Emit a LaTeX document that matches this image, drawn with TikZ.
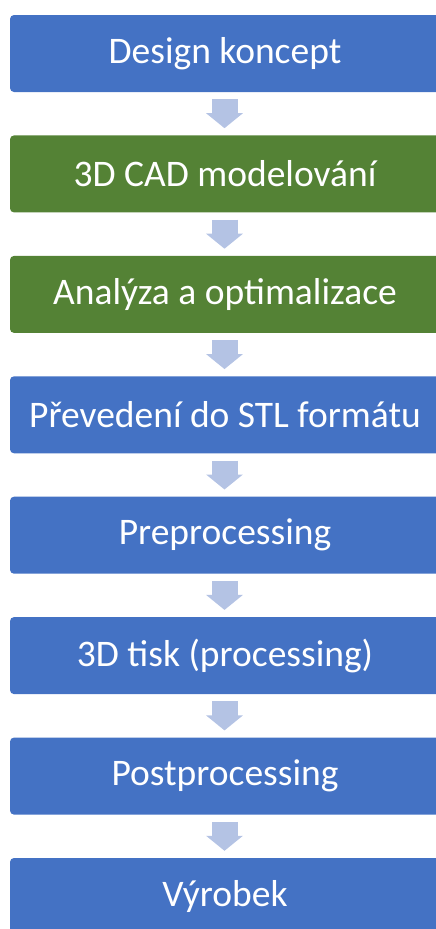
\documentclass[tikz,border=0pt]{standalone}
\usepackage{fontspec}
\setmainfont{Carlito}
\usetikzlibrary{arrows.meta,calc}
\definecolor{boxblue}{HTML}{4472C4}
\definecolor{boxgreen}{HTML}{548235}
\definecolor{arrowc}{HTML}{B4C3E4}
\tikzset{
  stepbox/.style={rectangle, rounded corners=4pt, minimum width=430pt, minimum height=77pt, inner sep=0pt, text=white, font=\fontsize{37.5}{43}\selectfont, fill=#1},
  flow/.style={draw=arrowc, line width=26pt, -{Triangle[width=36pt,length=15pt]}}
}
\begin{document}
\begin{tikzpicture}[x=1pt,y=-1pt]
\path[use as bounding box, clip] (0,0) rectangle (436,929);
\node[stepbox=boxblue]  (n1) at (225,53.5)  {Design koncept};
\node[stepbox=boxgreen] (n2) at (225,173.9) {3D CAD modelování};
\node[stepbox=boxgreen] (n3) at (225,294.4) {Analýza a optimalizace};
\node[stepbox=boxblue]  (n4) at (225,414.8) {Převedení do STL formátu};
\node[stepbox=boxblue]  (n5) at (225,535.2) {Preprocessing};
\node[stepbox=boxblue]  (n6) at (225,655.6) {3D tisk (processing)};
\node[stepbox=boxblue]  (n7) at (225,776.1) {Postprocessing};
\node[stepbox=boxblue]  (n8) at (225,896.5) {Výrobek};
\foreach \a/\b in {n1/n2,n2/n3,n3/n4,n4/n5,n5/n6,n6/n7,n7/n8}
  \draw[flow] ($(\a.south)+(-0.5,7)$) -- ($(\b.north)+(-0.5,-7)$);
\end{tikzpicture}
\end{document}
